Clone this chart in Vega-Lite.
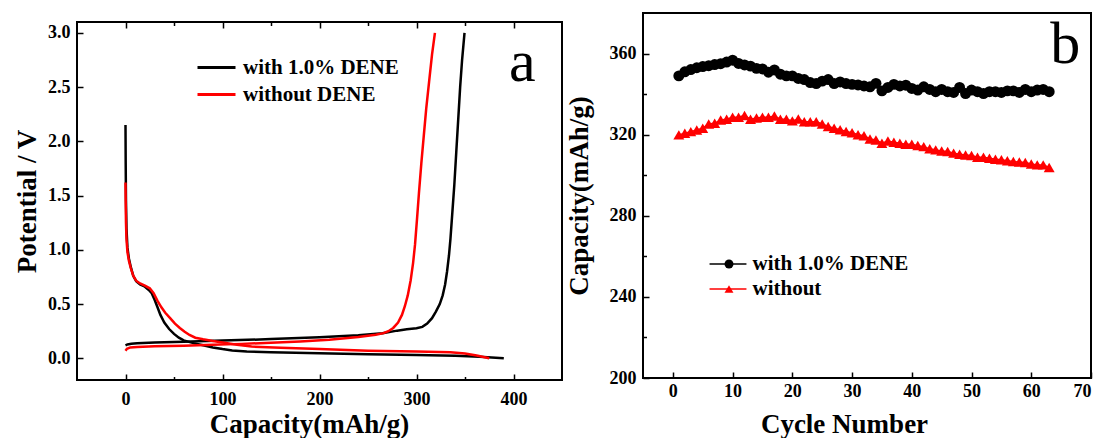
{
"$schema": "https://vega.github.io/schema/vega-lite/v6.json",
"background": "white",
"padding": {"left": 12, "top": 12, "right": 2, "bottom": 0},
"spacing": 1,
"config": {
  "font": "Liberation Serif",
  "view": {"stroke": "black", "strokeWidth": 2},
  "axis": {"labelFont": "Liberation Serif", "labelFontWeight": "bold", "labelFontSize": 18, "labelColor": "black",
           "titleFont": "Liberation Serif", "titleFontWeight": "bold", "titleFontSize": 27, "titleColor": "black",
           "domain": false, "grid": false, "tickColor": "black", "tickWidth": 1.5},
  "legend": {"labelFont": "Liberation Serif", "labelFontWeight": "bold", "labelFontSize": 21, "labelColor": "black", "padding": 0}
},
"resolve": {"scale": {"color": "independent", "stroke": "independent", "shape": "independent"},
            "legend": {"color": "independent", "stroke": "independent", "shape": "independent"}},
"datasets": {
"vc": [
{"cap":0,"v":2.15,"cell":"with 1.0% DENE","step":"wd","i":0},{"cap":0.2,"v":1.8,"cell":"with 1.0% DENE","step":"wd","i":1},{"cap":0.5,"v":1.45,"cell":"with 1.0% DENE","step":"wd","i":2},{"cap":1,"v":1.2,"cell":"with 1.0% DENE","step":"wd","i":3},{"cap":2,"v":1.02,"cell":"with 1.0% DENE","step":"wd","i":4},{"cap":3.5,"v":0.92,"cell":"with 1.0% DENE","step":"wd","i":5},{"cap":5.5,"v":0.84,"cell":"with 1.0% DENE","step":"wd","i":6},{"cap":8,"v":0.76,"cell":"with 1.0% DENE","step":"wd","i":7},{"cap":11,"v":0.71,"cell":"with 1.0% DENE","step":"wd","i":8},{"cap":15,"v":0.68,"cell":"with 1.0% DENE","step":"wd","i":9},{"cap":20,"v":0.66,"cell":"with 1.0% DENE","step":"wd","i":10},{"cap":24,"v":0.63,"cell":"with 1.0% DENE","step":"wd","i":11},{"cap":27,"v":0.6,"cell":"with 1.0% DENE","step":"wd","i":12},{"cap":30,"v":0.54,"cell":"with 1.0% DENE","step":"wd","i":13},{"cap":33,"v":0.47,"cell":"with 1.0% DENE","step":"wd","i":14},{"cap":36,"v":0.4,"cell":"with 1.0% DENE","step":"wd","i":15},{"cap":40,"v":0.33,"cell":"with 1.0% DENE","step":"wd","i":16},{"cap":45,"v":0.27,"cell":"with 1.0% DENE","step":"wd","i":17},{"cap":50,"v":0.225,"cell":"with 1.0% DENE","step":"wd","i":18},{"cap":55,"v":0.19,"cell":"with 1.0% DENE","step":"wd","i":19},{"cap":60,"v":0.165,"cell":"with 1.0% DENE","step":"wd","i":20},{"cap":70,"v":0.14,"cell":"with 1.0% DENE","step":"wd","i":21},{"cap":80,"v":0.12,"cell":"with 1.0% DENE","step":"wd","i":22},{"cap":90,"v":0.1,"cell":"with 1.0% DENE","step":"wd","i":23},{"cap":100,"v":0.085,"cell":"with 1.0% DENE","step":"wd","i":24},{"cap":110,"v":0.073,"cell":"with 1.0% DENE","step":"wd","i":25},{"cap":125,"v":0.062,"cell":"with 1.0% DENE","step":"wd","i":26},{"cap":150,"v":0.056,"cell":"with 1.0% DENE","step":"wd","i":27},{"cap":200,"v":0.046,"cell":"with 1.0% DENE","step":"wd","i":28},{"cap":250,"v":0.037,"cell":"with 1.0% DENE","step":"wd","i":29},{"cap":300,"v":0.031,"cell":"with 1.0% DENE","step":"wd","i":30},{"cap":340,"v":0.024,"cell":"with 1.0% DENE","step":"wd","i":31},{"cap":365,"v":0.014,"cell":"with 1.0% DENE","step":"wd","i":32},{"cap":390,"v":0.0,"cell":"with 1.0% DENE","step":"wd","i":33},
{"cap":0,"v":0.12,"cell":"with 1.0% DENE","step":"wc","i":0},{"cap":2,"v":0.128,"cell":"with 1.0% DENE","step":"wc","i":1},{"cap":6,"v":0.134,"cell":"with 1.0% DENE","step":"wc","i":2},{"cap":12,"v":0.138,"cell":"with 1.0% DENE","step":"wc","i":3},{"cap":30,"v":0.145,"cell":"with 1.0% DENE","step":"wc","i":4},{"cap":60,"v":0.153,"cell":"with 1.0% DENE","step":"wc","i":5},{"cap":100,"v":0.163,"cell":"with 1.0% DENE","step":"wc","i":6},{"cap":150,"v":0.177,"cell":"with 1.0% DENE","step":"wc","i":7},{"cap":200,"v":0.193,"cell":"with 1.0% DENE","step":"wc","i":8},{"cap":240,"v":0.212,"cell":"with 1.0% DENE","step":"wc","i":9},{"cap":265,"v":0.232,"cell":"with 1.0% DENE","step":"wc","i":10},{"cap":280,"v":0.255,"cell":"with 1.0% DENE","step":"wc","i":11},{"cap":290,"v":0.268,"cell":"with 1.0% DENE","step":"wc","i":12},{"cap":300,"v":0.277,"cell":"with 1.0% DENE","step":"wc","i":13},{"cap":306,"v":0.29,"cell":"with 1.0% DENE","step":"wc","i":14},{"cap":311,"v":0.32,"cell":"with 1.0% DENE","step":"wc","i":15},{"cap":316,"v":0.37,"cell":"with 1.0% DENE","step":"wc","i":16},{"cap":320,"v":0.43,"cell":"with 1.0% DENE","step":"wc","i":17},{"cap":324,"v":0.5,"cell":"with 1.0% DENE","step":"wc","i":18},{"cap":327,"v":0.58,"cell":"with 1.0% DENE","step":"wc","i":19},{"cap":329.5,"v":0.68,"cell":"with 1.0% DENE","step":"wc","i":20},{"cap":331.5,"v":0.8,"cell":"with 1.0% DENE","step":"wc","i":21},{"cap":333.5,"v":0.95,"cell":"with 1.0% DENE","step":"wc","i":22},{"cap":335,"v":1.1,"cell":"with 1.0% DENE","step":"wc","i":23},{"cap":337,"v":1.35,"cell":"with 1.0% DENE","step":"wc","i":24},{"cap":339,"v":1.6,"cell":"with 1.0% DENE","step":"wc","i":25},{"cap":341,"v":1.9,"cell":"with 1.0% DENE","step":"wc","i":26},{"cap":343,"v":2.2,"cell":"with 1.0% DENE","step":"wc","i":27},{"cap":345,"v":2.5,"cell":"with 1.0% DENE","step":"wc","i":28},{"cap":347,"v":2.75,"cell":"with 1.0% DENE","step":"wc","i":29},{"cap":349.5,"v":3.0,"cell":"with 1.0% DENE","step":"wc","i":30},
{"cap":0,"v":1.62,"cell":"without DENE","step":"nd","i":0},{"cap":0.2,"v":1.45,"cell":"without DENE","step":"nd","i":1},{"cap":0.5,"v":1.25,"cell":"without DENE","step":"nd","i":2},{"cap":1,"v":1.1,"cell":"without DENE","step":"nd","i":3},{"cap":2,"v":0.98,"cell":"without DENE","step":"nd","i":4},{"cap":3.5,"v":0.9,"cell":"without DENE","step":"nd","i":5},{"cap":5.5,"v":0.83,"cell":"without DENE","step":"nd","i":6},{"cap":8,"v":0.76,"cell":"without DENE","step":"nd","i":7},{"cap":11,"v":0.715,"cell":"without DENE","step":"nd","i":8},{"cap":15,"v":0.69,"cell":"without DENE","step":"nd","i":9},{"cap":20,"v":0.67,"cell":"without DENE","step":"nd","i":10},{"cap":25,"v":0.645,"cell":"without DENE","step":"nd","i":11},{"cap":29,"v":0.6,"cell":"without DENE","step":"nd","i":12},{"cap":33,"v":0.53,"cell":"without DENE","step":"nd","i":13},{"cap":37,"v":0.47,"cell":"without DENE","step":"nd","i":14},{"cap":41,"v":0.42,"cell":"without DENE","step":"nd","i":15},{"cap":46,"v":0.37,"cell":"without DENE","step":"nd","i":16},{"cap":51,"v":0.32,"cell":"without DENE","step":"nd","i":17},{"cap":56,"v":0.28,"cell":"without DENE","step":"nd","i":18},{"cap":61,"v":0.245,"cell":"without DENE","step":"nd","i":19},{"cap":66,"v":0.215,"cell":"without DENE","step":"nd","i":20},{"cap":72,"v":0.19,"cell":"without DENE","step":"nd","i":21},{"cap":80,"v":0.175,"cell":"without DENE","step":"nd","i":22},{"cap":90,"v":0.16,"cell":"without DENE","step":"nd","i":23},{"cap":100,"v":0.145,"cell":"without DENE","step":"nd","i":24},{"cap":115,"v":0.125,"cell":"without DENE","step":"nd","i":25},{"cap":130,"v":0.108,"cell":"without DENE","step":"nd","i":26},{"cap":160,"v":0.097,"cell":"without DENE","step":"nd","i":27},{"cap":200,"v":0.085,"cell":"without DENE","step":"nd","i":28},{"cap":250,"v":0.07,"cell":"without DENE","step":"nd","i":29},{"cap":300,"v":0.062,"cell":"without DENE","step":"nd","i":30},{"cap":335,"v":0.055,"cell":"without DENE","step":"nd","i":31},{"cap":350,"v":0.045,"cell":"without DENE","step":"nd","i":32},{"cap":362,"v":0.025,"cell":"without DENE","step":"nd","i":33},{"cap":375,"v":0.0,"cell":"without DENE","step":"nd","i":34},
{"cap":0,"v":0.07,"cell":"without DENE","step":"nc","i":0},{"cap":1.5,"v":0.088,"cell":"without DENE","step":"nc","i":1},{"cap":5,"v":0.1,"cell":"without DENE","step":"nc","i":2},{"cap":12,"v":0.105,"cell":"without DENE","step":"nc","i":3},{"cap":30,"v":0.11,"cell":"without DENE","step":"nc","i":4},{"cap":60,"v":0.115,"cell":"without DENE","step":"nc","i":5},{"cap":90,"v":0.124,"cell":"without DENE","step":"nc","i":6},{"cap":120,"v":0.133,"cell":"without DENE","step":"nc","i":7},{"cap":150,"v":0.143,"cell":"without DENE","step":"nc","i":8},{"cap":180,"v":0.155,"cell":"without DENE","step":"nc","i":9},{"cap":210,"v":0.172,"cell":"without DENE","step":"nc","i":10},{"cap":240,"v":0.197,"cell":"without DENE","step":"nc","i":11},{"cap":258,"v":0.218,"cell":"without DENE","step":"nc","i":12},{"cap":266,"v":0.232,"cell":"without DENE","step":"nc","i":13},{"cap":271,"v":0.25,"cell":"without DENE","step":"nc","i":14},{"cap":276,"v":0.28,"cell":"without DENE","step":"nc","i":15},{"cap":281,"v":0.33,"cell":"without DENE","step":"nc","i":16},{"cap":285,"v":0.4,"cell":"without DENE","step":"nc","i":17},{"cap":288,"v":0.48,"cell":"without DENE","step":"nc","i":18},{"cap":291,"v":0.58,"cell":"without DENE","step":"nc","i":19},{"cap":294,"v":0.72,"cell":"without DENE","step":"nc","i":20},{"cap":296.5,"v":0.88,"cell":"without DENE","step":"nc","i":21},{"cap":298.5,"v":1.05,"cell":"without DENE","step":"nc","i":22},{"cap":300.5,"v":1.28,"cell":"without DENE","step":"nc","i":23},{"cap":302.5,"v":1.52,"cell":"without DENE","step":"nc","i":24},{"cap":305,"v":1.8,"cell":"without DENE","step":"nc","i":25},{"cap":307.5,"v":2.05,"cell":"without DENE","step":"nc","i":26},{"cap":310,"v":2.3,"cell":"without DENE","step":"nc","i":27},{"cap":313,"v":2.55,"cell":"without DENE","step":"nc","i":28},{"cap":316,"v":2.8,"cell":"without DENE","step":"nc","i":29},{"cap":319,"v":3.0,"cell":"without DENE","step":"nc","i":30}
],
"cyc": [
{"cycle":1,"cap":349.0,"s":"with 1.0% DENE"},{"cycle":2,"cap":351.0,"s":"with 1.0% DENE"},{"cycle":3,"cap":352.1,"s":"with 1.0% DENE"},{"cycle":4,"cap":353.0,"s":"with 1.0% DENE"},{"cycle":5,"cap":353.6,"s":"with 1.0% DENE"},{"cycle":6,"cap":354.0,"s":"with 1.0% DENE"},{"cycle":7,"cap":354.6,"s":"with 1.0% DENE"},{"cycle":8,"cap":355.0,"s":"with 1.0% DENE"},{"cycle":9,"cap":355.8,"s":"with 1.0% DENE"},{"cycle":10,"cap":356.7,"s":"with 1.0% DENE"},{"cycle":11,"cap":355.1,"s":"with 1.0% DENE"},{"cycle":12,"cap":354.4,"s":"with 1.0% DENE"},{"cycle":13,"cap":353.8,"s":"with 1.0% DENE"},{"cycle":14,"cap":352.7,"s":"with 1.0% DENE"},{"cycle":15,"cap":352.4,"s":"with 1.0% DENE"},{"cycle":16,"cap":350.8,"s":"with 1.0% DENE"},{"cycle":17,"cap":351.9,"s":"with 1.0% DENE"},{"cycle":18,"cap":349.8,"s":"with 1.0% DENE"},{"cycle":19,"cap":349.0,"s":"with 1.0% DENE"},{"cycle":20,"cap":349.0,"s":"with 1.0% DENE"},{"cycle":21,"cap":347.7,"s":"with 1.0% DENE"},{"cycle":22,"cap":347.2,"s":"with 1.0% DENE"},{"cycle":23,"cap":345.7,"s":"with 1.0% DENE"},{"cycle":24,"cap":345.2,"s":"with 1.0% DENE"},{"cycle":25,"cap":346.4,"s":"with 1.0% DENE"},{"cycle":26,"cap":347.2,"s":"with 1.0% DENE"},{"cycle":27,"cap":345.2,"s":"with 1.0% DENE"},{"cycle":28,"cap":346.0,"s":"with 1.0% DENE"},{"cycle":29,"cap":345.2,"s":"with 1.0% DENE"},{"cycle":30,"cap":344.8,"s":"with 1.0% DENE"},{"cycle":31,"cap":344.5,"s":"with 1.0% DENE"},{"cycle":32,"cap":344.0,"s":"with 1.0% DENE"},{"cycle":33,"cap":343.6,"s":"with 1.0% DENE"},{"cycle":34,"cap":345.3,"s":"with 1.0% DENE"},{"cycle":35,"cap":341.6,"s":"with 1.0% DENE"},{"cycle":36,"cap":343.3,"s":"with 1.0% DENE"},{"cycle":37,"cap":344.8,"s":"with 1.0% DENE"},{"cycle":38,"cap":344.0,"s":"with 1.0% DENE"},{"cycle":39,"cap":344.4,"s":"with 1.0% DENE"},{"cycle":40,"cap":342.8,"s":"with 1.0% DENE"},{"cycle":41,"cap":342.0,"s":"with 1.0% DENE"},{"cycle":42,"cap":343.6,"s":"with 1.0% DENE"},{"cycle":43,"cap":342.3,"s":"with 1.0% DENE"},{"cycle":44,"cap":341.2,"s":"with 1.0% DENE"},{"cycle":45,"cap":342.3,"s":"with 1.0% DENE"},{"cycle":46,"cap":341.2,"s":"with 1.0% DENE"},{"cycle":47,"cap":340.8,"s":"with 1.0% DENE"},{"cycle":48,"cap":343.3,"s":"with 1.0% DENE"},{"cycle":49,"cap":340.3,"s":"with 1.0% DENE"},{"cycle":50,"cap":342.0,"s":"with 1.0% DENE"},{"cycle":51,"cap":341.2,"s":"with 1.0% DENE"},{"cycle":52,"cap":340.3,"s":"with 1.0% DENE"},{"cycle":53,"cap":341.2,"s":"with 1.0% DENE"},{"cycle":54,"cap":341.2,"s":"with 1.0% DENE"},{"cycle":55,"cap":340.8,"s":"with 1.0% DENE"},{"cycle":56,"cap":341.6,"s":"with 1.0% DENE"},{"cycle":57,"cap":341.6,"s":"with 1.0% DENE"},{"cycle":58,"cap":340.8,"s":"with 1.0% DENE"},{"cycle":59,"cap":342.3,"s":"with 1.0% DENE"},{"cycle":60,"cap":341.2,"s":"with 1.0% DENE"},{"cycle":61,"cap":342.0,"s":"with 1.0% DENE"},{"cycle":62,"cap":342.3,"s":"with 1.0% DENE"},{"cycle":63,"cap":341.2,"s":"with 1.0% DENE"},
{"cycle":1,"cap":319.9,"s":"without"},{"cycle":2,"cap":320.7,"s":"without"},{"cycle":3,"cap":321.5,"s":"without"},{"cycle":4,"cap":322.3,"s":"without"},{"cycle":5,"cap":323.2,"s":"without"},{"cycle":6,"cap":325.3,"s":"without"},{"cycle":7,"cap":325.6,"s":"without"},{"cycle":8,"cap":327.2,"s":"without"},{"cycle":9,"cap":327.6,"s":"without"},{"cycle":10,"cap":328.6,"s":"without"},{"cycle":11,"cap":328.6,"s":"without"},{"cycle":12,"cap":329.5,"s":"without"},{"cycle":13,"cap":327.6,"s":"without"},{"cycle":14,"cap":328.2,"s":"without"},{"cycle":15,"cap":328.6,"s":"without"},{"cycle":16,"cap":328.6,"s":"without"},{"cycle":17,"cap":329.2,"s":"without"},{"cycle":18,"cap":327.6,"s":"without"},{"cycle":19,"cap":327.6,"s":"without"},{"cycle":20,"cap":326.8,"s":"without"},{"cycle":21,"cap":327.7,"s":"without"},{"cycle":22,"cap":326.4,"s":"without"},{"cycle":23,"cap":326.4,"s":"without"},{"cycle":24,"cap":326.4,"s":"without"},{"cycle":25,"cap":325.3,"s":"without"},{"cycle":26,"cap":324.0,"s":"without"},{"cycle":27,"cap":323.2,"s":"without"},{"cycle":28,"cap":322.4,"s":"without"},{"cycle":29,"cap":321.6,"s":"without"},{"cycle":30,"cap":320.9,"s":"without"},{"cycle":31,"cap":320.0,"s":"without"},{"cycle":32,"cap":319.5,"s":"without"},{"cycle":33,"cap":317.9,"s":"without"},{"cycle":34,"cap":317.4,"s":"without"},{"cycle":35,"cap":315.8,"s":"without"},{"cycle":36,"cap":316.9,"s":"without"},{"cycle":37,"cap":316.3,"s":"without"},{"cycle":38,"cap":315.8,"s":"without"},{"cycle":39,"cap":315.3,"s":"without"},{"cycle":40,"cap":315.3,"s":"without"},{"cycle":41,"cap":314.6,"s":"without"},{"cycle":42,"cap":314.1,"s":"without"},{"cycle":43,"cap":313.0,"s":"without"},{"cycle":44,"cap":312.5,"s":"without"},{"cycle":45,"cap":312.0,"s":"without"},{"cycle":46,"cap":311.7,"s":"without"},{"cycle":47,"cap":310.9,"s":"without"},{"cycle":48,"cap":310.4,"s":"without"},{"cycle":49,"cap":310.0,"s":"without"},{"cycle":50,"cap":309.7,"s":"without"},{"cycle":51,"cap":308.9,"s":"without"},{"cycle":52,"cap":308.9,"s":"without"},{"cycle":53,"cap":308.4,"s":"without"},{"cycle":54,"cap":307.9,"s":"without"},{"cycle":55,"cap":307.6,"s":"without"},{"cycle":56,"cap":307.1,"s":"without"},{"cycle":57,"cap":306.8,"s":"without"},{"cycle":58,"cap":306.5,"s":"without"},{"cycle":59,"cap":306.3,"s":"without"},{"cycle":60,"cap":305.5,"s":"without"},{"cycle":61,"cap":305.1,"s":"without"},{"cycle":62,"cap":305.1,"s":"without"},{"cycle":63,"cap":303.8,"s":"without"}
]
},
"hconcat": [
{
  "spacing": 6,
  "vconcat": [
    {
      "width": 485, "height": 1,
      "view": {"stroke": null},
      "data": {"values": [{}]},
      "mark": {"type": "point", "size": 0, "opacity": 0},
      "encoding": {}
    },
    {
      "width": 485, "height": 358,
      "layer": [
        {
          "data": {"name": "vc"},
          "mark": {"type": "line", "strokeWidth": 2.5, "clip": true},
          "encoding": {
            "x": {"field": "cap", "type": "quantitative", "scale": {"domain": [-50, 450], "nice": false, "zero": false},
                  "axis": {"orient": "bottom", "title": "Capacity(mAh/g)", "values": [0,50,100,150,200,250,300,350,400],
                           "labelExpr": "datum.value % 100 === 0 ? datum.label : ''",
                           "tickSize": {"condition": {"test": "datum.value % 100 === 0", "value": -6}, "value": -3.5},
                           "labelPadding": 16, "titlePadding": 3, "titleX": 232}},
            "y": {"field": "v", "type": "quantitative", "scale": {"domain": [-0.2, 3.1], "nice": false, "zero": false},
                  "axis": {"title": "Potential / V", "values": [0,0.25,0.5,0.75,1,1.25,1.5,1.75,2,2.25,2.5,2.75,3], "format": ".1f",
                           "labelExpr": "datum.value % 0.5 === 0 ? datum.label : ''",
                           "tickSize": {"condition": {"test": "datum.value % 0.5 === 0", "value": -6}, "value": -3.5},
                           "labelPadding": 13, "titlePadding": 6}},
            "color": {"field": "cell", "type": "nominal",
                      "scale": {"domain": ["with 1.0% DENE", "without DENE"], "range": ["#000000", "#ff0000"]},
                      "legend": {"title": null, "orient": "none", "legendX": 128.5, "legendY": 43.5,
                                 "symbolType": "M-2,0H2", "symbolSize": 361, "symbolStrokeWidth": 3,
                                 "labelOffset": 15.5, "rowPadding": 6}},
            "detail": {"field": "step", "type": "nominal"},
            "order": {"field": "i", "type": "quantitative"}
          }
        },
        {
          "data": {"values": [{}]},
          "mark": {"type": "text", "fontSize": 60, "font": "Liberation Serif", "fontWeight": "normal", "align": "center", "baseline": "alphabetic", "color": "black", "clip": true},
          "encoding": {
            "x": {"datum": 409, "type": "quantitative",
                  "axis": {"orient": "top", "title": null, "labels": false, "values": [0,50,100,150,200,250,300,350,400],
                           "tickSize": {"condition": {"test": "datum.value % 100 === 0", "value": -6}, "value": -3.5},
                           "minExtent": 0, "maxExtent": 0}},
            "y": {"datum": 2.556, "type": "quantitative"},
            "text": {"value": "a"}
          }
        }
      ],
      "resolve": {"axis": {"x": "independent"}}
    }
  ]
},
{
  "width": 448, "height": 365,
  "layer": [
    {
      "data": {"name": "cyc"},
      "mark": {"type": "line", "strokeWidth": 1.5, "clip": true},
      "encoding": {
        "x": {"field": "cycle", "type": "quantitative", "scale": {"domain": [-5, 70], "nice": false, "zero": false},
              "axis": {"title": "Cycle Number", "values": [0,5,10,15,20,25,30,35,40,45,50,55,60,65,70],
                       "labelExpr": "datum.value % 10 === 0 ? datum.label : ''",
                       "tickSize": {"condition": {"test": "datum.value % 10 === 0", "value": -6}, "value": -3.5},
                       "labelPadding": 10, "titlePadding": 11, "titleX": 201}},
        "y": {"field": "cap", "type": "quantitative", "scale": {"domain": [200, 380], "nice": false, "zero": false},
              "axis": {"title": "Capacity(mAh/g)", "values": [200,220,240,260,280,300,320,340,360],
                       "labelExpr": "datum.value % 40 === 0 ? datum.label : ''",
                       "tickSize": {"condition": {"test": "datum.value % 40 === 0", "value": -6}, "value": -3.5},
                       "labelPadding": 13, "titlePadding": 16}},
        "stroke": {"field": "s", "type": "nominal",
                   "scale": {"domain": ["without", "with 1.0% DENE"], "range": ["#ff0000", "#000000"]},
                   "legend": {"title": null, "orient": "none", "legendX": 74.5, "legendY": 240.5,
                              "values": ["with 1.0% DENE", "without"],
                              "symbolType": "M-2.05,0H2.05", "symbolSize": 324, "symbolStrokeWidth": 1.5,
                              "labelOffset": 14, "rowPadding": 3}}
      }
    },
    {
      "data": {"name": "cyc"},
      "mark": {"type": "point", "filled": true, "opacity": 1, "size": 120},
      "encoding": {
        "x": {"field": "cycle", "type": "quantitative"},
        "y": {"field": "cap", "type": "quantitative"},
        "color": {"field": "s", "type": "nominal",
                  "scale": {"domain": ["with 1.0% DENE", "without"], "range": ["#000000", "#ff0000"]},
                  "legend": {"title": null, "orient": "none", "legendX": 75.5, "legendY": 240.5,
                             "symbolSize": 80, "labelExpr": "''", "rowPadding": 3, "symbolStrokeWidth": 0}},
        "shape": {"field": "s", "type": "nominal",
                  "scale": {"domain": ["with 1.0% DENE", "without"], "range": ["circle", "triangle-up"]},
                  "legend": {"title": null, "orient": "none", "legendX": 75.5, "legendY": 240.5,
                             "symbolSize": 80, "labelExpr": "''", "rowPadding": 3, "symbolStrokeWidth": 0}}
      }
    },
    {
      "data": {"values": [{}]},
      "mark": {"type": "text", "fontSize": 60, "font": "Liberation Serif", "fontWeight": "normal", "align": "center", "baseline": "alphabetic", "color": "black", "clip": true},
      "encoding": {
        "x": {"datum": 65.7, "type": "quantitative"},
        "y": {"datum": 355.3, "type": "quantitative"},
        "text": {"value": "b"}
      }
    }
  ]
}
]
}
